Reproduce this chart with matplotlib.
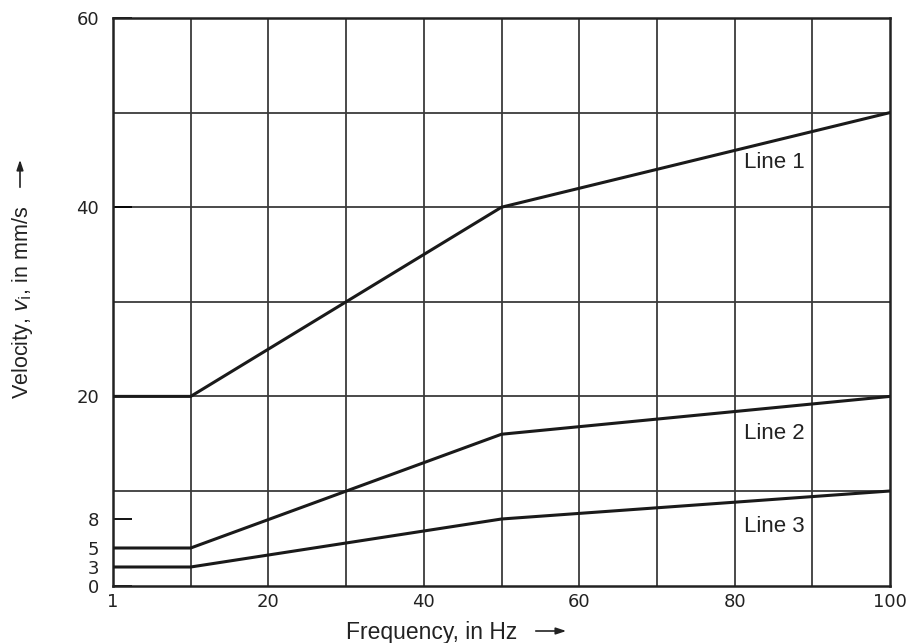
import numpy as np
import matplotlib
matplotlib.use("Agg")
import matplotlib.pyplot as plt

# vibration guideline lines (velocity vs frequency)
freq = [1, 10, 50, 100]
line1 = [20, 20, 40, 50]
line2 = [5, 5, 16, 20]
line3 = [3, 3, 8, 10]
line_names = ["Line 1", "Line 2", "Line 3"]

x_ticks = [1, 20, 40, 60, 80, 100]
x_grid = [10, 20, 30, 40, 50, 60, 70, 80, 90]
y_ticks = [0, 3, 5, 8, 20, 40, 60]
y_grid = [10, 20, 30, 40, 50]

# the drawing's axes are not quite linear at the low end
X_KNOTS = ([1, 10, 100], [0, 10, 100])
Y_KNOTS = ([0, 3, 5, 8, 10, 60], [0, 19, 38, 67, 95, 568])


def piecewise(knots):
    a, b = knots
    fwd = lambda v: np.interp(v, a, b)
    inv = lambda v: np.interp(v, b, a)
    return fwd, inv


W, H = 909, 643
fig = plt.figure(figsize=(W / 100, H / 100), dpi=100)
ax = fig.add_axes([113 / W, 57 / H, 777 / W, 568 / H])

ax.set_xscale("function", functions=piecewise(X_KNOTS))
ax.set_yscale("function", functions=piecewise(Y_KNOTS))
ax.set_xlim(1, 100)
ax.set_ylim(0, 60)

for gx in x_grid:
    ax.axvline(gx, color="#3a3a3a", lw=1.3, zorder=1)
for gy in y_grid:
    ax.axhline(gy, color="#3a3a3a", lw=1.3, zorder=1)

for ys in (line1, line2, line3):
    ax.plot(freq, ys, color="#1a1a1a", lw=2.2, solid_joinstyle="miter", zorder=3)

label_pos = [(81.2, 44.7), (81.2, 16.1), (81.2, 7.2)]
for name, (lx, ly) in zip(line_names, label_pos):
    ax.text(lx, ly, name, ha="left", va="center", fontsize=16,
            family="Liberation Sans", color="#222222")

ax.set_xticks(x_ticks)
ax.set_xticklabels([str(t) for t in x_ticks])
ax.set_yticks(y_ticks)
ax.set_yticklabels([str(t) for t in y_ticks])
ax.xaxis.set_minor_locator(matplotlib.ticker.NullLocator())
ax.yaxis.set_minor_locator(matplotlib.ticker.NullLocator())
ax.tick_params(axis="x", length=0, pad=5, labelsize=13)
ax.tick_params(axis="y", direction="in", length=14, width=1.3, pad=10,
               labelsize=13)
for lab in ax.get_xticklabels() + ax.get_yticklabels():
    lab.set_fontfamily("DejaVu Sans")
    lab.set_color("#222222")

for sp in ax.spines.values():
    sp.set_linewidth(1.8)
    sp.set_color("#222222")

# axis titles with arrows, placed in figure pixels
fig.text(432 / W, 1 - 632 / H, "Frequency, in Hz", ha="center", va="center",
         fontsize=16.5, family="Liberation Sans", color="#222222")
fig.text(23 / W, 1 - 302 / H, r"Velocity, $v_\mathrm{i}$, in mm/s",
         ha="center", va="center", rotation=90, fontsize=15.5,
         family="Liberation Sans", color="#222222")
fig.patches.append(matplotlib.patches.FancyArrowPatch(
    (533 / W, 1 - 631 / H), (569 / W, 1 - 631 / H), transform=fig.transFigure,
    arrowstyle="-|>,head_length=6,head_width=2", lw=1.2, color="#222222",
    mutation_scale=1))
fig.patches.append(matplotlib.patches.FancyArrowPatch(
    (20 / W, 1 - 190 / H), (20 / W, 1 - 157 / H), transform=fig.transFigure,
    arrowstyle="-|>,head_length=6,head_width=2", lw=1.2, color="#222222",
    mutation_scale=1))

fig.savefig("out.png", dpi=100)
